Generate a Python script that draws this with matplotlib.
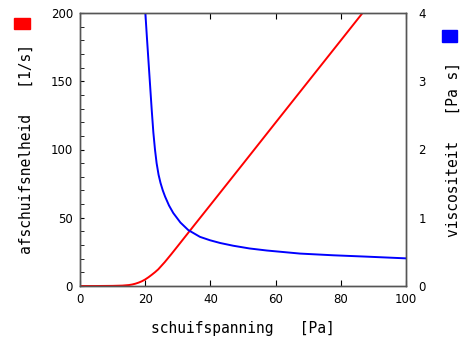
#!/usr/bin/env python

import matplotlib
matplotlib.use("Agg")
import matplotlib.pyplot as plt
import matplotlib.patches as patches
import matplotlib.ticker as ticker

# shear stress [Pa] vs shear rate [1/s] (red curve)
stress_rate = [0, 5, 10, 13, 15, 16, 17, 18, 19, 20, 21, 22, 23, 24, 26,
               28, 30, 35, 40, 50, 60, 70, 80, 87]
shear_rate = [0, 0, 0.1, 0.3, 0.7, 1.1, 1.7, 2.5, 3.5, 4.8, 6.4, 8.2, 10.1,
              12.2, 17.5, 23.3, 29.3, 44.4, 59.4, 89.5, 119.7, 149.8, 179.9, 201]

# shear stress [Pa] vs viscosity [Pa s] (blue curve)
stress_visc = [19.9, 20.05, 20.5, 21.0, 21.5, 22.0, 22.5, 23.0, 23.5,
               24.1, 24.7, 25.4, 26.1, 27.3, 28.6, 30.8, 33.2, 36.8, 39.9,
               43, 47, 52, 57.3, 67.5, 77.7, 88, 100]
viscosity = [4.12, 4.0, 3.66, 3.30, 2.94, 2.58, 2.25, 2.0, 1.80,
             1.63, 1.51, 1.40, 1.31, 1.18, 1.07, 0.93, 0.82, 0.72, 0.67,
             0.63, 0.59, 0.55, 0.52, 0.475, 0.45, 0.43, 0.405]

x_ticks = [0, 20, 40, 60, 80, 100]
left_ticks = [0, 50, 100, 150, 200]
right_ticks = [0, 1, 2, 3, 4]

label_font = "DejaVu Sans Mono"
spine_color = "#555555"


def main() -> int:
    fig = plt.figure(figsize=(4.62, 3.38), dpi=100)
    ax = fig.add_axes([80 / 462, 52 / 338, 326 / 462, 273 / 338])
    ax2 = ax.twinx()

    ax.plot(stress_rate, shear_rate, color="#ff0000", lw=1.4)
    ax2.plot(stress_visc, viscosity, color="#0000ff", lw=1.4)

    ax.set_xlim(0, 100)
    ax.set_ylim(0, 200)
    ax2.set_ylim(0, 4)

    ax.xaxis.set_major_locator(ticker.FixedLocator(x_ticks))
    ax.yaxis.set_major_locator(ticker.FixedLocator(left_ticks))
    ax.yaxis.set_minor_locator(ticker.MultipleLocator(10))
    ax2.yaxis.set_major_locator(ticker.FixedLocator(right_ticks))

    ax.tick_params(axis="x", which="both", direction="in", length=4,
                   top=True, labelsize=8.5, pad=5, color="black")
    ax.tick_params(axis="y", which="both", direction="in", length=3,
                   labelsize=8.5, pad=5, color="black")
    ax2.tick_params(axis="y", direction="in", length=0, labelsize=8.5, pad=9)

    for a in (ax, ax2):
        for s in a.spines.values():
            s.set_color(spine_color)
            s.set_linewidth(1.0)

    ax.set_xlabel("schuifspanning   [Pa]", family=label_font, fontsize=10.5,
                  labelpad=11)
    ax.set_ylabel("afschuifsnelheid   [1/s]", family=label_font,
                  fontsize=10.5, labelpad=12)
    ax2.set_ylabel("viscositeit   [Pa s]", family=label_font, fontsize=10.5,
                   labelpad=14)

    # colour keys next to the axis labels
    fig.patches.append(patches.Rectangle((14 / 462, 1 - 29 / 338), 16 / 462,
                                         11 / 338, transform=fig.transFigure,
                                         color="#ff0000"))
    fig.patches.append(patches.Rectangle((442 / 462, 1 - 42 / 338), 15 / 462,
                                         12 / 338, transform=fig.transFigure,
                                         color="#0000ff"))

    fig.savefig("out.png", dpi=100)
    return 0


if __name__ == "__main__":
    main()
